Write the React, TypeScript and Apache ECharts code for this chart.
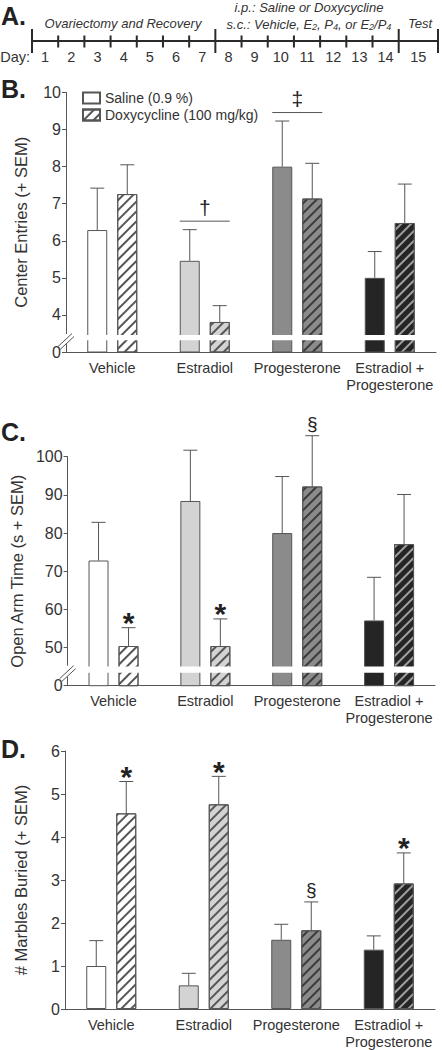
import React, { useEffect, useRef } from 'react';
import * as echarts from 'echarts';

const FONT = '"Liberation Sans", Arial, sans-serif';
const TXT = '#333';
const AX = '#555';

// ---------- data ----------
const groups = ['Vehicle', 'Estradiol', 'Progesterone', 'Estradiol +\nProgesterone'];
const SAL = 'Saline (0.9 %)';
const DOX = 'Doxycycline (100 mg/kg)';

const groupColors = ['#ffffff', '#d3d3d3', '#8b8b8b', '#252525'];
const hatchColors = ['#555555', '#555555', '#3a3a3a', '#a0a0a0'];

// B. Center entries
const centerSaline = [6.29, 5.46, 8.0, 5.0];
const centerSalineErr = [7.42, 6.3, 9.23, 5.71];
const centerDoxy = [7.26, 3.81, 7.14, 6.48];
const centerDoxyErr = [8.05, 4.25, 8.09, 7.53];
const centerTicks = { min: 3, max: 10, step: 1, zeroAt: 3, breakLo: 3.32, breakHi: 3.46 };

// C. Open arm time
const openSaline = [72.8, 88.4, 80.0, 57.1];
const openSalineErr = [82.8, 101.7, 94.8, 68.4];
const openDoxy = [50.4, 50.4, 92.2, 77.1];
const openDoxyErr = [55.2, 57.5, 105.5, 90.1];
const openTicks = { min: 40, max: 100, step: 10, zeroAt: 40, breakLo: 43.4, breakHi: 45.0 };

// D. Marbles buried
const marbleSaline = [1.0, 0.55, 1.61, 1.38];
const marbleSalineErr = [1.59, 0.83, 1.97, 1.7];
const marbleDoxy = [4.55, 4.76, 1.83, 2.92];
const marbleDoxyErr = [5.29, 5.41, 2.49, 3.63];
const marbleTicks = { min: 0, max: 6, step: 1 };

// significance marks: side 0 = saline bar, 1 = doxy bar, 2 = spanning both
const annotB = [
  { cat: 1, side: 2, sym: '†' },
  { cat: 2, side: 2, sym: '‡' },
];
const annotC = [
  { cat: 0, side: 1, sym: '*' },
  { cat: 1, side: 1, sym: '*' },
  { cat: 2, side: 1, sym: '§' },
];
const annotD = [
  { cat: 0, side: 1, sym: '*' },
  { cat: 1, side: 1, sym: '*' },
  { cat: 2, side: 1, sym: '§' },
  { cat: 3, side: 1, sym: '*' },
];

// A. timeline
const days = [1, 2, 3, 4, 5, 6, 7, 8, 9, 10, 11, 12, 13, 14, 15];
const dayBounds = [0, 1, 2, 3, 4, 5, 6, 7, 8, 9, 10, 11, 12, 13, 14, 15.5];
const majorBounds = [0, 7, 14, 15.5];

// ---------- styling constants ----------
const BAR_W = 20;
const BAR_GAP = 0.5;
const OFF = (BAR_W * (1 + BAR_GAP)) / 2;

const grids = [
  { left: 66, right: 6, top: 92.5, height: 259.5 },
  { left: 67, right: 7, top: 456.7, height: 229 },
  { left: 65, right: 7, top: 751, height: 260.7 },
  { left: 32, width: 406, top: 29, height: 24 },
];

function hatch(color: string) {
  return {
    symbol: 'rect',
    symbolSize: 1,
    color,
    dashArrayX: [1, 0],
    dashArrayY: [1.5, 4.2],
    rotation: -Math.PI / 4,
  };
}

function barSeries(idx: number, vals: number[], doxy: boolean) {
  return {
    type: 'bar',
    name: doxy ? DOX : SAL,
    xAxisIndex: idx,
    yAxisIndex: idx,
    barWidth: BAR_W,
    barGap: BAR_GAP * 100 + '%',
    itemStyle: doxy
      ? { color: '#fff', borderColor: AX, borderWidth: 1, decal: hatch('#555') }
      : { color: '#fff', borderColor: AX, borderWidth: 1 },
    data: vals.map((v, i) => ({
      value: v,
      itemStyle: doxy
        ? { color: groupColors[i], borderColor: AX, borderWidth: 1, decal: hatch(hatchColors[i]) }
        : { color: groupColors[i], borderColor: AX, borderWidth: 1 },
    })),
    z: 2,
  };
}

function errSeries(idx: number, ms: number[], es: number[], md: number[], ed: number[]) {
  const data = [
    ...ms.map((m, i) => [i, 0, es[i], m]),
    ...md.map((m, i) => [i, 1, ed[i], m]),
  ];
  return {
    type: 'custom',
    xAxisIndex: idx,
    yAxisIndex: idx,
    clip: false,
    z: 3,
    silent: true,
    encode: { x: 0, y: [2, 3] },
    data,
    renderItem: (params: any, api: any) => {
      const cat = api.value(0);
      const side = api.value(1);
      const top = api.coord([cat, api.value(2)]);
      const base = api.coord([cat, api.value(3)]);
      const x = top[0] + (side === 0 ? -OFF : OFF);
      return {
        type: 'group',
        children: [
          { type: 'line', shape: { x1: x, y1: base[1], x2: x, y2: top[1] }, style: { stroke: AX, lineWidth: 1 } },
          { type: 'line', shape: { x1: x - 7, y1: top[1], x2: x + 7, y2: top[1] }, style: { stroke: AX, lineWidth: 1 } },
        ],
      };
    },
  };
}

function annotSeries(idx: number, annots: any[], es: number[], ed: number[]) {
  const data = annots.map((a) => [
    a.cat,
    a.side,
    a.side === 0 ? es[a.cat] : a.side === 1 ? ed[a.cat] : Math.max(es[a.cat], ed[a.cat]),
  ]);
  return {
    type: 'custom',
    xAxisIndex: idx,
    yAxisIndex: idx,
    clip: false,
    z: 4,
    silent: true,
    encode: { x: 0, y: 2 },
    data,
    renderItem: (params: any, api: any) => {
      const a = annots[params.dataIndex];
      const cat = api.value(0);
      const side = api.value(1);
      const p = api.coord([cat, api.value(2)]);
      const children: any[] = [];
      const mk = (x: number, y: number, font: string) => ({
        type: 'text',
        style: {
          text: a.sym, x, y, font, fill: '#222',
          align: 'center', verticalAlign: 'middle', textAlign: 'center', textVerticalAlign: 'middle',
        },
      });
      if (side === 2) {
        const ly = p[1] - 8.5;
        children.push({
          type: 'line',
          shape: { x1: p[0] - OFF - BAR_W / 2, y1: ly, x2: p[0] + OFF + BAR_W / 2, y2: ly },
          style: { stroke: AX, lineWidth: 1 },
        });
        children.push(mk(p[0], ly - 14, `21px ${FONT}`));
      } else {
        const x = p[0] + (side === 0 ? -OFF : OFF);
        if (a.sym === '*') children.push(mk(x, p[1] - 5, `bold 30px ${FONT}`));
        else children.push(mk(x, p[1] - 12, `19px ${FONT}`));
      }
      return { type: 'group', children };
    },
  };
}

function breakSeries(idx: number, lo: number, hi: number) {
  return {
    type: 'custom',
    xAxisIndex: idx,
    yAxisIndex: idx,
    clip: false,
    z: 10,
    silent: true,
    encode: { x: 0, y: [1, 2] },
    data: [[0, lo, hi]],
    renderItem: (params: any, api: any) => {
      const cs = params.coordSys;
      const yLo = api.coord([0, api.value(1)])[1];
      const yHi = api.coord([0, api.value(2)])[1];
      const ym = (yLo + yHi) / 2;
      return {
        type: 'group',
        children: [
          { type: 'rect', shape: { x: cs.x + 1, y: yHi, width: cs.width, height: yLo - yHi }, style: { fill: '#fff' } },
          { type: 'rect', shape: { x: cs.x - 1.5, y: yHi - 1, width: 3, height: yLo - yHi + 5 }, style: { fill: '#fff' } },
          { type: 'line', shape: { x1: cs.x - 8, y1: ym + 9, x2: cs.x + 6, y2: ym - 4 }, style: { stroke: AX, lineWidth: 1 } },
          { type: 'line', shape: { x1: cs.x - 6, y1: ym + 12, x2: cs.x + 8, y2: ym - 1 }, style: { stroke: AX, lineWidth: 1 } },
        ],
      };
    },
  };
}

function yAxis(idx: number, t: any, name: string, gap: number) {
  return {
    type: 'value',
    gridIndex: idx,
    min: t.min,
    max: t.max,
    interval: t.step,
    name,
    nameLocation: 'middle',
    nameRotate: 90,
    nameGap: gap,
    nameTextStyle: { fontFamily: FONT, fontSize: 16.5, color: TXT },
    axisLine: { show: true, lineStyle: { color: AX, width: 1 } },
    axisTick: { show: true, length: 4, lineStyle: { color: AX } },
    splitLine: { show: false },
    axisLabel: {
      fontFamily: FONT,
      fontSize: 16,
      color: TXT,
      margin: 5,
      formatter: (v: number) => (t.zeroAt !== undefined && v === t.zeroAt ? '0' : String(v)),
    },
  };
}

function xAxis(idx: number) {
  return {
    type: 'category',
    gridIndex: idx,
    data: groups,
    axisLine: { show: true, lineStyle: { color: AX, width: 1 } },
    axisTick: { show: false },
    axisLabel: { fontFamily: FONT, fontSize: 14.5, color: TXT, margin: 7, lineHeight: 17, interval: 0 },
  };
}

function text(t: string, x: number, y: number, font: string, align = 'left', fill = TXT) {
  return {
    type: 'text',
    style: { text: t, x, y, font, fill, align, verticalAlign: 'middle', textAlign: align, textVerticalAlign: 'middle' },
  };
}

function buildOption() {
  const labelFont = `bold 25px ${FONT}`;
  const headFont = `italic 13px ${FONT}`;
  return {
    animation: false,
    grid: grids,
    legend: {
      left: 77,
      top: 86,
      orient: 'vertical',
      itemWidth: 17,
      itemHeight: 11,
      itemGap: 3,
      icon: 'rect',
      selectedMode: false,
      data: [SAL, DOX],
      textStyle: { fontFamily: FONT, fontSize: 14, color: TXT },
    },
    xAxis: [
      xAxis(0),
      xAxis(1),
      xAxis(2),
      { type: 'value', gridIndex: 3, min: 0, max: dayBounds[dayBounds.length - 1], show: false },
    ],
    yAxis: [
      yAxis(0, centerTicks, 'Center Entries (+ SEM)', 37),
      yAxis(1, openTicks, 'Open Arm Time (s + SEM)', 38),
      yAxis(2, marbleTicks, '# Marbles Buried (+ SEM)', 36),
      { type: 'value', gridIndex: 3, min: -1, max: 1, show: false },
    ],
    series: [
      barSeries(0, centerSaline, false),
      barSeries(0, centerDoxy, true),
      errSeries(0, centerSaline, centerSalineErr, centerDoxy, centerDoxyErr),
      annotSeries(0, annotB, centerSalineErr, centerDoxyErr),
      breakSeries(0, centerTicks.breakLo, centerTicks.breakHi),

      barSeries(1, openSaline, false),
      barSeries(1, openDoxy, true),
      errSeries(1, openSaline, openSalineErr, openDoxy, openDoxyErr),
      annotSeries(1, annotC, openSalineErr, openDoxyErr),
      breakSeries(1, openTicks.breakLo, openTicks.breakHi),

      barSeries(2, marbleSaline, false),
      barSeries(2, marbleDoxy, true),
      errSeries(2, marbleSaline, marbleSalineErr, marbleDoxy, marbleDoxyErr),
      annotSeries(2, annotD, marbleSalineErr, marbleDoxyErr),

      {
        type: 'custom',
        xAxisIndex: 3,
        yAxisIndex: 3,
        clip: false,
        silent: true,
        data: dayBounds.map((b) => [b, majorBounds.includes(b) ? 1 : 0.46]),
        renderItem: (params: any, api: any) => {
          const x = api.value(0);
          const h = api.value(1);
          const t = api.coord([x, h]);
          const b = api.coord([x, -h]);
          const children: any[] = [
            { type: 'line', shape: { x1: t[0], y1: t[1], x2: b[0], y2: b[1] + (h < 1 ? 1 : 0) }, style: { stroke: '#2a2a2a', lineWidth: 2 } },
          ];
          if (params.dataIndex === 0) {
            const s = api.coord([dayBounds[0], 0]);
            const e = api.coord([dayBounds[dayBounds.length - 1], 0]);
            children.push({ type: 'line', shape: { x1: s[0], y1: s[1], x2: e[0], y2: e[1] }, style: { stroke: '#2a2a2a', lineWidth: 2 } });
          }
          return { type: 'group', children };
        },
      },
      {
        type: 'custom',
        xAxisIndex: 3,
        yAxisIndex: 3,
        clip: false,
        silent: true,
        data: days.map((d, i) => [(dayBounds[i] + dayBounds[i + 1]) / 2, d]),
        renderItem: (params: any, api: any) => {
          const p = api.coord([api.value(0), -1]);
          return {
            type: 'text',
            style: {
              text: String(api.value(1)), x: p[0], y: p[1] + 4, font: `14.5px ${FONT}`, fill: TXT,
              align: 'center', verticalAlign: 'middle', textAlign: 'center', textVerticalAlign: 'middle',
            },
          };
        },
      },
    ],
    graphic: [
      text('A.', 1, 16, labelFont, 'left', '#222'),
      text('B.', 1, 89, labelFont, 'left', '#222'),
      text('C.', 1, 432, labelFont, 'left', '#222'),
      text('D.', 1, 749, labelFont, 'left', '#222'),
      text('Day:', 30, 57, `14.5px ${FONT}`, 'right'),
      text('Ovariectomy and Recovery', 123, 23, headFont, 'center'),
      text('i.p.: Saline or Doxycycline', 309, 7, headFont, 'center'),
      text('Test', 420, 23, headFont, 'center'),
      {
        type: 'text',
        style: {
          text: '{a|s.c.: Vehicle, E}{s|2}{a|, P}{s|4}{a|, or E}{s|2}{a|/P}{s|4}',
          x: 309,
          y: 23,
          align: 'center',
          verticalAlign: 'middle',
          textAlign: 'center',
          textVerticalAlign: 'middle',
          rich: {
            a: { font: headFont, fill: TXT, color: TXT, lineHeight: 16, verticalAlign: 'bottom' },
            s: { font: `italic 9px ${FONT}`, fill: TXT, color: TXT, lineHeight: 16, verticalAlign: 'bottom' },
          },
        },
      },
    ],
  };
}

export default function App() {
  const ref = useRef<HTMLDivElement>(null);
  useEffect(() => {
    const chart = echarts.init(ref.current!, null, { renderer: 'svg' });
    chart.setOption(buildOption() as any);
    return () => chart.dispose();
  }, []);
  return (
    <div
      ref={ref}
      style={{ position: 'absolute', left: 0, top: 0, width: 442, height: 1050, background: '#fff' }}
    />
  );
}
